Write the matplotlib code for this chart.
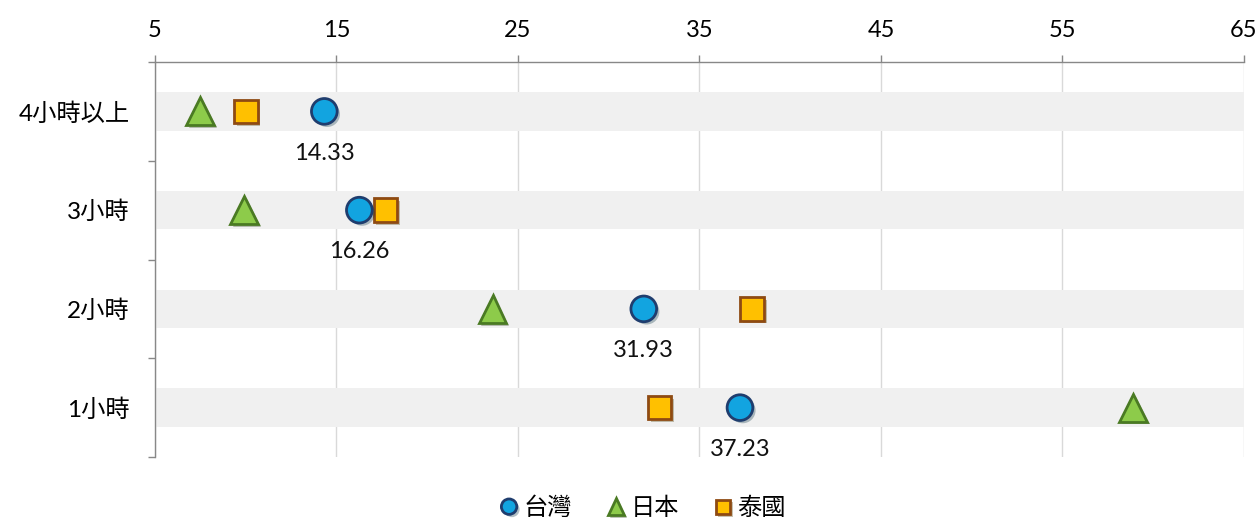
import matplotlib.pyplot as plt
import matplotlib.patheffects as pe
import numpy as np

plt.rcParams['font.family'] = ['Lato', 'Noto Sans CJK TC', 'DejaVu Sans']

categories = ['4小時以上', '3小時', '2小時', '1小時']
taiwan = [14.33, 16.26, 31.93, 37.23]
japan = [7.5, 9.9, 23.6, 58.9]
thailand = [10.0, 17.7, 37.9, 32.8]
xticks = [5, 15, 25, 35, 45, 55, 65]

fig = plt.figure(figsize=(12.6, 5.22), dpi=100)
ax = fig.add_axes([0.123, 0.1245, 0.8643, 0.7567])

y = np.arange(len(categories))

# grey bands behind each row
ax.barh(y, 60.2, left=5, height=0.39, color='#F0F0F0', zorder=1)

shadow = [pe.SimplePatchShadow(offset=(2, -2), alpha=0.3), pe.Normal()]

ax.plot(japan, y, ls='none', marker='^', ms=20, mfc='#8DCB4A', mec='#4A7A23', mew=2,
        label='日本', zorder=3, path_effects=shadow)
ax.plot(thailand, y, ls='none', marker='s', ms=17, mfc='#FFC000', mec='#8E4A12', mew=2,
        label='泰國', zorder=3, path_effects=shadow)
ax.plot(taiwan, y, ls='none', marker='o', ms=18.5, mfc='#12A4E0', mec='#1F3D6E', mew=2,
        label='台灣', zorder=4, path_effects=shadow)

for xv, yv in zip(taiwan, y):
    ax.annotate(f'{xv:.2f}', (xv, yv), xytext=(0, -30), textcoords='offset points',
                ha='center', va='center', fontsize=17, color='#111111')

ax.set_xlim(5, 65)
ax.set_ylim(3.5, -0.5)
ax.xaxis.tick_top()
ax.set_xticks(xticks)
ax.tick_params(axis='x', length=5, width=1, color='#888888', labelsize=17, pad=10)
ax.set_yticks(y)
ax.set_yticklabels(categories)
ax.tick_params(axis='y', which='major', length=0, labelsize=17.5, pad=18)
ax.set_yticks(np.arange(-0.5, 4, 1), minor=True)
ax.tick_params(axis='y', which='minor', length=5, width=1, color='#888888')

ax.xaxis.grid(True, color='#D9D9D9', lw=1)
ax.yaxis.grid(False)
ax.set_axisbelow(True)

for s in ['right', 'bottom']:
    ax.spines[s].set_visible(False)
for s in ['top', 'left']:
    ax.spines[s].set_color('#888888')
    ax.spines[s].set_linewidth(1)

handles, labels = ax.get_legend_handles_labels()
order = [2, 0, 1]
leg = fig.legend([handles[i] for i in order], [labels[i] for i in order], loc='center',
                 bbox_to_anchor=(0.51, 0.027), ncol=3, frameon=False, fontsize=17.5,
                 markerscale=0.6, handlelength=0.8, handletextpad=0.2, columnspacing=1.4)

fig.savefig('out.png', dpi=100)
